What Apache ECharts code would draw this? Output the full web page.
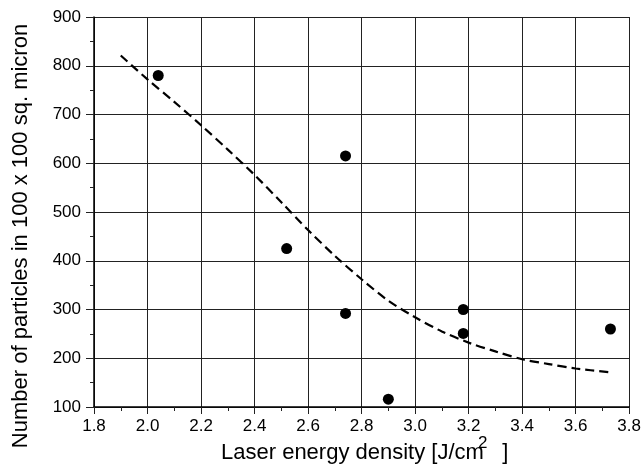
<!DOCTYPE html>
<html>
<head>
<meta charset="utf-8">
<script src="https://cdn.jsdelivr.net/npm/echarts@6/dist/echarts.min.js"></script>
<style>
  html, body { margin: 0; padding: 0; background: #fff; }
  #chart { width: 644px; height: 464px; }
</style>
</head>
<body>
<div id="chart"></div>
<script>
// Measured particle counts per laser energy density
const measuredX = [2.04, 2.52, 2.74, 2.74, 2.90, 3.18, 3.18, 3.73];
const measuredY = [780, 425, 615, 292, 116, 300, 251, 260];

// Trend curve (dashed)
const trendX = [1.9, 2.0, 2.1, 2.2, 2.3, 2.4, 2.5, 2.6, 2.7, 2.8, 2.9, 3.0, 3.1, 3.2, 3.3, 3.4, 3.5, 3.6, 3.73];
const trendY = [821, 772, 726, 678, 628, 576, 520, 463, 410, 362, 318, 284, 255, 232, 214, 198, 188, 179, 171];

// Axis settings
const xMin = 1.8, xMax = 3.8, xStep = 0.2;
const yMin = 100, yMax = 900, yStep = 100;

const font = 'Liberation Sans, Arial, sans-serif';
const ink = '#000';

const chart = echarts.init(document.getElementById('chart'), null, { renderer: 'canvas' });

const gridLine = { show: true, lineStyle: { color: '#222', width: 1 } };

chart.setOption({
  backgroundColor: '#fff',
  animation: false,
  grid: { left: 94, right: 11, top: 17, bottom: 57, containLabel: false },
  xAxis: {
    type: 'value',
    min: xMin, max: xMax, interval: xStep,
    axisLine: { show: true, onZero: false, lineStyle: { color: ink, width: 1.5 } },
    axisTick: { show: true, inside: false, length: 7, lineStyle: { color: '#222', width: 1 } },
    minorTick: { show: true, splitNumber: 2, length: 4, lineStyle: { color: '#222', width: 1 } },
    splitLine: gridLine,
    axisLabel: {
      margin: 11, fontFamily: font, fontSize: 17, color: ink,
      formatter: v => v.toFixed(1)
    }
  },
  yAxis: {
    type: 'value',
    min: yMin, max: yMax, interval: yStep,
    axisLine: { show: true, onZero: false, lineStyle: { color: ink, width: 1.5 } },
    axisTick: { show: true, inside: false, length: 8, lineStyle: { color: '#222', width: 1 } },
    minorTick: { show: true, splitNumber: 2, length: 4, lineStyle: { color: '#222', width: 1 } },
    splitLine: gridLine,
    axisLabel: { margin: 13, fontFamily: font, fontSize: 17, color: ink }
  },
  series: [
    {
      type: 'line',
      data: trendX.map((x, i) => [x, trendY[i]]),
      smooth: 0.3,
      showSymbol: false,
      lineStyle: { color: ink, width: 2.2, type: [9, 5] },
      z: 3
    },
    {
      type: 'scatter',
      data: measuredX.map((x, i) => [x, measuredY[i]]),
      symbol: 'circle',
      symbolSize: 11,
      itemStyle: { color: ink, opacity: 1 },
      z: 4
    }
  ],
  graphic: [
    {
      type: 'text',
      x: 21, y: 236,
      rotation: Math.PI / 2,
      style: {
        text: 'Number of particles in 100 x 100 sq. micron',
        font: '22px ' + font,
        fill: ink,
        align: 'center',
        verticalAlign: 'middle'
      }
    },
    {
      type: 'text',
      x: 221, y: 453,
      style: {
        text: 'Laser energy density [J/cm   ]',
        font: '22px ' + font,
        fill: ink,
        align: 'left',
        verticalAlign: 'middle'
      }
    },
    {
      type: 'text',
      x: 478, y: 443,
      style: {
        text: '2',
        font: '17px ' + font,
        fill: ink,
        align: 'left',
        verticalAlign: 'middle'
      }
    }
  ]
});
</script>
</body>
</html>
